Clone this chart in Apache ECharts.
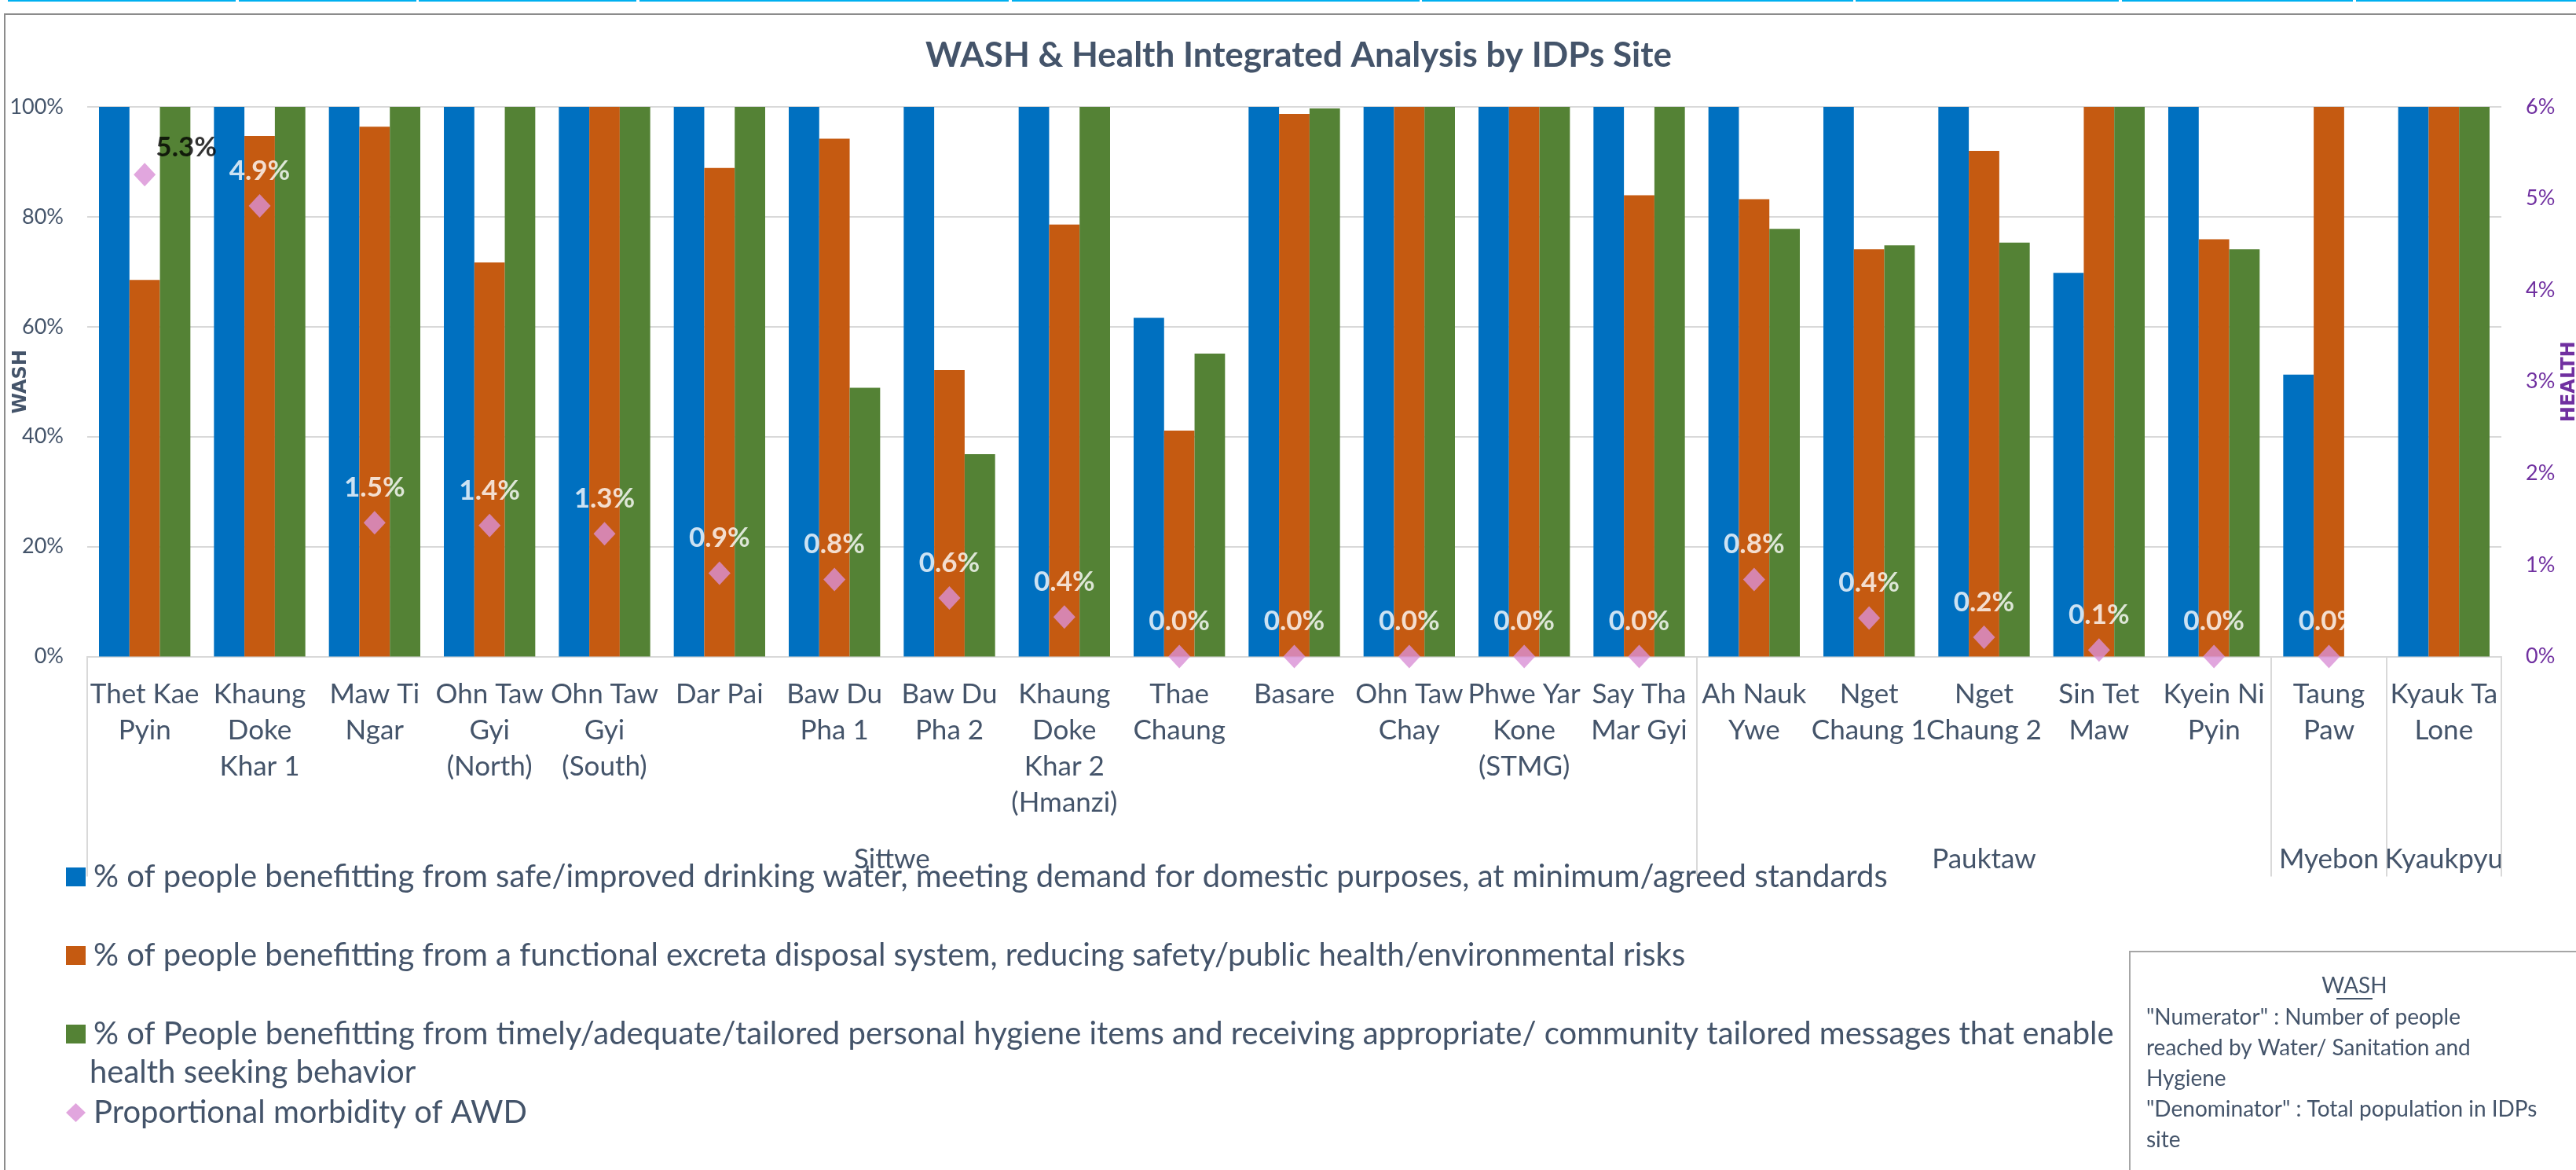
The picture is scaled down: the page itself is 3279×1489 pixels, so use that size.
<!DOCTYPE html>
<html><head><meta charset="utf-8">
<script src="https://cdn.jsdelivr.net/npm/echarts@6/dist/echarts.min.js"></script>
<style>html,body{margin:0;padding:0;background:#fff;overflow:hidden}#c{width:3279px;height:1489px}</style>
</head><body><div id="c"></div>
<script>
// ---------- data ----------
const categories = [
  'Thet Kae\nPyin', 'Khaung\nDoke\nKhar 1', 'Maw Ti\nNgar', 'Ohn Taw\nGyi\n(North)', 'Ohn Taw\nGyi\n(South)',
  'Dar Pai', 'Baw Du\nPha 1', 'Baw Du\nPha 2', 'Khaung\nDoke\nKhar 2\n(Hmanzi)', 'Thae\nChaung',
  'Basare', 'Ohn Taw\nChay', 'Phwe Yar\nKone\n(STMG)', 'Say Tha\nMar Gyi', 'Ah Nauk\nYwe',
  'Nget\nChaung 1', 'Nget\nChaung 2', 'Sin Tet\nMaw', 'Kyein Ni\nPyin', 'Taung\nPaw', 'Kyauk Ta\nLone'
];
const groupNames = ['Sittwe', 'Pauktaw', 'Myebon', 'Kyaukpyu'];
const groupSizes = [14, 5, 1, 1];
const seriesNames = [
  '% of people benefitting from safe/improved drinking water, meeting demand for domestic purposes, at minimum/agreed standards',
  '% of people benefitting from a functional excreta disposal system, reducing safety/public health/environmental risks',
  '% of People benefitting from timely/adequate/tailored personal hygiene items and receiving appropriate/ community tailored messages that enable health seeking behavior',
  'Proportional morbidity of AWD'
];
const waterData      = [100, 100, 100, 100, 100, 100, 100, 100, 100, 61.6, 100, 100, 100, 100, 100, 100, 100, 69.8, 100, 51.3, 100];
const sanitationData = [68.5, 94.7, 96.4, 71.7, 100, 88.9, 94.2, 52.1, 78.6, 41.1, 98.7, 100, 100, 83.9, 83.2, 74.1, 92.0, 100, 75.9, 100, 100];
const hygieneData    = [100, 100, 100, 100, 100, 100, 48.9, 36.8, 100, 55.1, 99.7, 100, 100, 100, 77.8, 74.8, 75.3, 100, 74.1, null, 100];
const awdData        = [5.26, 4.92, 1.46, 1.43, 1.34, 0.91, 0.84, 0.64, 0.43, 0, 0, 0, 0, 0, 0.84, 0.42, 0.21, 0.07, 0, 0, null];
const washAxis   = { min: 0, max: 100, interval: 20, name: 'WASH' };
const healthAxis = { min: 0, max: 6, interval: 1, name: 'HEALTH' };
const noteTitle = 'WASH';
const noteLines = ['"Numerator" : Number of people', 'reached by Water/ Sanitation and', 'Hygiene', '"Denominator" : Total population in IDPs', 'site'];

// ---------- styles ----------
const FONT = 'Lato, "Noto Sans", sans-serif';
const NAMEFONT = '"DejaVu Sans", Lato, sans-serif';
const TXT = '#44546A';
const PURPLE = '#7030A0';
const colors = ['#0070C0', '#C55A11', '#548235', '#D990D6'];

const chart = echarts.init(document.getElementById('c'), null, { renderer: 'canvas' });

const barCommon = { type: 'bar', barGap: '0%', barCategoryGap: '20.5%', yAxisIndex: 0 };

const option = {
  backgroundColor: '#ffffff',
  animation: false,
  textStyle: { fontFamily: FONT },
  title: {
    text: 'WASH & Health Integrated Analysis by IDPs Site',
    left: 1648, top: 44, textAlign: 'center',
    textStyle: { fontFamily: FONT, fontSize: 44, fontWeight: 'bold', color: TXT }
  },
  grid: { left: 111, top: 136, width: 3073, height: 699.5, containLabel: false, outerBoundsMode: 'none' },
  legend: {
    orient: 'vertical', left: 79, top: 1086, itemWidth: 25, itemHeight: 24, itemGap: 50,
    selectedMode: false,
    textStyle: { fontFamily: FONT, fontSize: 40, color: TXT, lineHeight: 50, padding: [0, 0, 0, 5] },
    formatter: function (n) { return n === seriesNames[2] ? n.replace(' health seeking behavior', '') : n; },
    data: [
      { name: seriesNames[0], icon: 'rect' },
      { name: seriesNames[1], icon: 'rect' },
      { name: seriesNames[2], icon: 'rect' },
      { name: seriesNames[3], icon: 'diamond' }
    ]
  },
  xAxis: {
    type: 'category', data: categories,
    axisLine: { show: true, lineStyle: { color: '#D9D9D9', width: 2 } },
    axisTick: { show: false },
    axisLabel: { interval: 0, fontFamily: FONT, fontSize: 35, lineHeight: 46, color: TXT, margin: 25 }
  },
  yAxis: [
    {
      type: 'value', min: washAxis.min, max: washAxis.max, interval: washAxis.interval, position: 'left',
      axisLine: { show: false }, axisTick: { show: false },
      axisLabel: { formatter: '{value}%', fontFamily: FONT, fontSize: 27, color: TXT, margin: 30 },
      splitLine: { show: true, lineStyle: { color: '#D9D9D9', width: 2 } }
    },
    {
      type: 'value', min: healthAxis.min, max: healthAxis.max, interval: healthAxis.interval, position: 'right',
      axisLine: { show: false }, axisTick: { show: false },
      axisLabel: { formatter: '{value}%', fontFamily: FONT, fontSize: 27, color: PURPLE, margin: 31 },
      splitLine: { show: false }
    }
  ],
  series: [
    Object.assign({}, barCommon, { name: seriesNames[0], data: waterData, itemStyle: { color: colors[0] } }),
    Object.assign({}, barCommon, { name: seriesNames[1], data: sanitationData, itemStyle: { color: colors[1] } }),
    Object.assign({}, barCommon, { name: seriesNames[2], data: hygieneData, itemStyle: { color: colors[2] } }),
    {
      name: seriesNames[3], type: 'scatter', yAxisIndex: 1, symbol: 'diamond', symbolSize: [28, 30], z: 5,
      itemStyle: { color: colors[3] },
      label: {
        show: true, position: 'top', distance: 12, color: '#ffffff', fontFamily: FONT, fontWeight: 'bold', fontSize: 35,
        formatter: function (p) { return p.value == null ? '' : Number(p.value).toFixed(1) + '%'; }
      },
      data: awdData.map(function (v, i) {
        if (i === 0) return { value: v, label: { color: '#000000', offset: [53, 10] } };
        return v;
      })
    }
  ]
};
chart.setOption(option);

// ---------- decorations placed from the axis scale ----------
function xOf(i) { return chart.convertToPixel({ xAxisIndex: 0 }, i); }
const band = xOf(1) - xOf(0);
const yBase = chart.convertToPixel({ yAxisIndex: 0 }, washAxis.min);
const yTop = chart.convertToPixel({ yAxisIndex: 0 }, washAxis.max);
const yMid = (yBase + yTop) / 2;
const xLeft = xOf(0) - band / 2;
const xRight = xOf(categories.length - 1) + band / 2;
const g = [];
g.push({ type: 'rect', z: -10, shape: { x: 6, y: 18, width: 3400, height: 1600 }, style: { fill: null, stroke: '#8C8C8C', lineWidth: 2 } });
[[10, 300], [304, 530], [533, 810], [814, 1284], [1288, 1807], [1810, 2359], [2362, 2697], [2701, 2995], [2999, 3279]].forEach(function (s) {
  g.push({ type: 'line', shape: { x1: s[0], y1: 1, x2: s[1], y2: 1 }, style: { stroke: '#00B0F0', lineWidth: 2 } });
});
// axis names
g.push({ type: 'text', x: xLeft - 84, y: yMid, rotation: Math.PI / 2, style: { text: washAxis.name, align: 'center', verticalAlign: 'middle', fontFamily: NAMEFONT, fontWeight: 'bold', fontSize: 24, fill: TXT } });
g.push({ type: 'text', x: xRight + 87, y: yMid, rotation: Math.PI / 2, style: { text: healthAxis.name, align: 'center', verticalAlign: 'middle', fontFamily: NAMEFONT, fontWeight: 'bold', fontSize: 24, fill: PURPLE } });
// group separators and names
let start = 0;
const bounds = [0];
groupSizes.forEach(function (n, k) {
  const x0 = xOf(start) - band / 2, x1 = xOf(start + n - 1) + band / 2;
  g.push({ type: 'text', style: { text: groupNames[k], x: (x0 + x1) / 2, y: yBase + 258, align: 'center', verticalAlign: 'middle', fontFamily: FONT, fontSize: 35, fill: TXT } });
  start += n;
  bounds.push(start);
});
bounds.forEach(function (b) {
  const x = Math.round(xOf(Math.min(b, categories.length - 1)) + (b === categories.length ? band / 2 : -band / 2));
  g.push({ type: 'line', shape: { x1: x, y1: yBase, x2: x, y2: yBase + 280 }, style: { stroke: '#D9D9D9', lineWidth: 2 } });
});
g.push({ type: 'text', style: { text: 'health seeking behavior', x: 114, y: 1365, verticalAlign: 'middle', fontFamily: FONT, fontSize: 40, fill: TXT } });
// note box
g.push({ type: 'rect', shape: { x: 2711, y: 1211, width: 700, height: 400 }, style: { fill: '#ffffff', stroke: '#A6A6A6', lineWidth: 2 } });
g.push({ type: 'text', style: { text: noteTitle, x: 2997, y: 1255, align: 'center', verticalAlign: 'middle', fontFamily: FONT, fontSize: 28, fill: TXT } });
g.push({ type: 'line', shape: { x1: 2974, y1: 1271, x2: 3020, y2: 1271 }, style: { stroke: TXT, lineWidth: 2 } });
noteLines.forEach(function (t, i) {
  g.push({ type: 'text', style: { text: t, x: 2732, y: 1295 + i * 39, verticalAlign: 'middle', fontFamily: FONT, fontSize: 28, fill: TXT } });
});
chart.setOption({ graphic: g });
</script></body></html>
